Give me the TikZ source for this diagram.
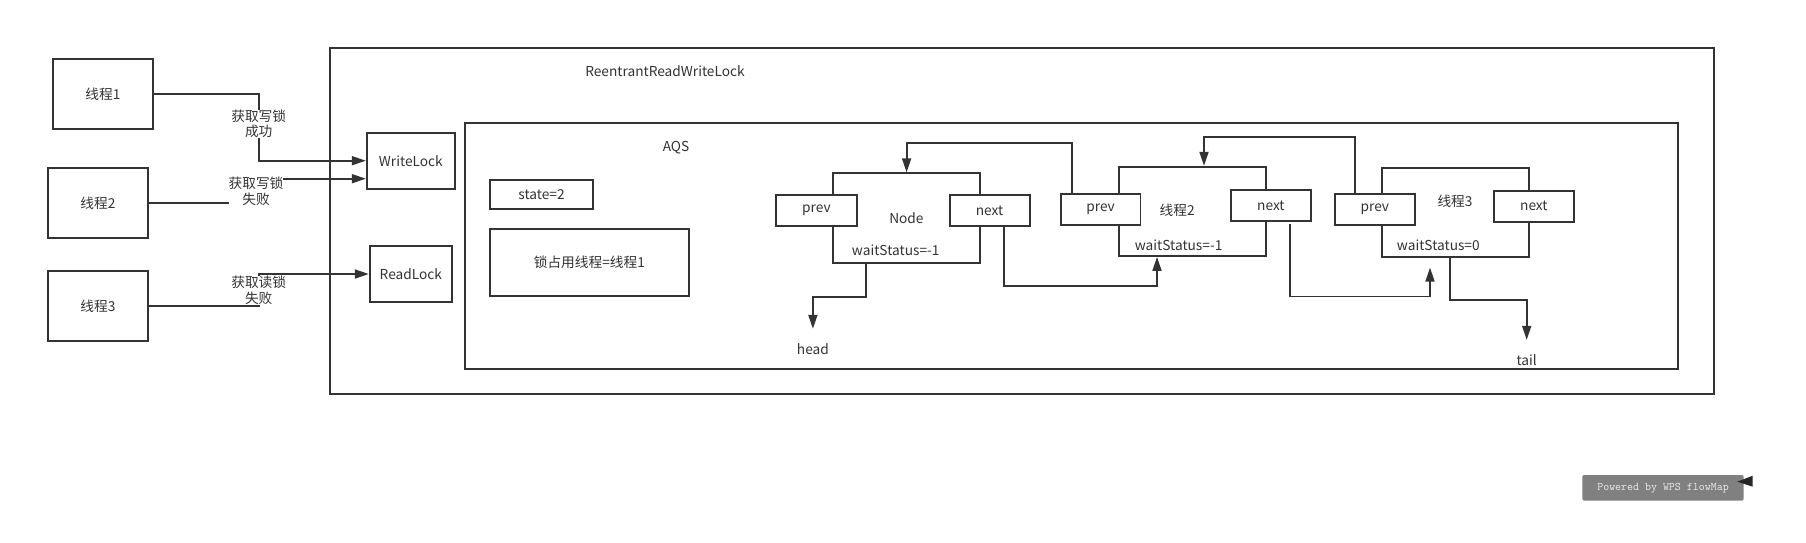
\documentclass[tikz,border=0pt]{standalone}
\usepackage{fontspec}
\setmainfont{Noto Sans CJK SC}
\usetikzlibrary{arrows.meta}
\definecolor{ink}{HTML}{333333}
\definecolor{wmgray}{HTML}{808080}
\begin{document}
\begin{tikzpicture}[x=1pt,y=-1pt,
  box/.style={draw=ink,line width=1.8pt,fill=white,inner sep=0pt,text=ink,font=\fontsize{13.7}{16}\selectfont},
  txt/.style={text=ink,inner sep=0pt,font=\fontsize{13.7}{16}\selectfont,text height=10pt,text depth=0pt},
  lbl/.style={text=ink,inner sep=0pt,fill=white,align=center,font=\fontsize{13.7}{15.7}\selectfont},
  arr/.style={draw=ink,line width=1.8pt,-{Triangle[length=14pt,width=9pt]}}]
\useasboundingbox[fill=white] (0,0) rectangle (1806,543);
% outer containers
\node[box,minimum width=1384pt,minimum height=346.3pt] (rrwl) at (1022,220.85) {};
\node[txt] (rrwlt) at (665,71.7) {ReentrantReadWriteLock};
\node[box,minimum width=1213pt,minimum height=246.6pt] (aqs) at (1071.5,246) {};
\node[txt] (aqst) at (676,146) {AQS};
% threads
\node[box,minimum width=100.6pt,minimum height=70pt] (t1) at (103,94) {线程1};
\node[box,minimum width=100.6pt,minimum height=70.3pt] (t2) at (98,202.85) {线程2};
\node[box,minimum width=100.6pt,minimum height=70.3pt] (t3) at (98,305.85) {线程3};
% locks
\node[box,minimum width=88.3pt,minimum height=56pt] (wl) at (410.85,160.7) {WriteLock};
\node[box,minimum width=82.3pt,minimum height=56pt] (rl) at (410.85,274) {ReadLock};
% AQS state
\node[box,minimum width=103.6pt,minimum height=29.3pt] (st) at (541.5,194.35) {state=2};
\node[box,minimum width=199.3pt,minimum height=67pt] (own) at (589.35,262.2) {锁占用线程=线程1};
% queue nodes
\node[box,minimum width=146.8pt,minimum height=89.4pt] (n1) at (906.6,218) {};
\node[box,minimum width=80.7pt,minimum height=31pt] (p1) at (816.45,210.5) {prev};
\node[box,minimum width=80pt,minimum height=31pt] (x1) at (989.6,210.5) {next};
\node[txt] (n1t) at (906.4,218.7) {Node};
\node[txt] (n1w) at (895.7,250) {waitStatus=-1};

\node[box,minimum width=147.5pt,minimum height=89.3pt] (n2) at (1192.35,211.35) {};
\node[box,minimum width=79.7pt,minimum height=30.7pt] (p2) at (1100.55,209.35) {prev};
\node[box,minimum width=80.4pt,minimum height=30.7pt] (x2) at (1270.9,205.35) {next};
\node[txt] (n2t) at (1177.1,210) {线程2};
\node[txt] (n2w) at (1178.6,245) {waitStatus=-1};

\node[box,minimum width=147.3pt,minimum height=89pt] (n3) at (1455.35,212.2) {};
\node[box,minimum width=80.3pt,minimum height=31pt] (p3) at (1374.85,209.2) {prev};
\node[box,minimum width=80.3pt,minimum height=31pt] (x3) at (1533.85,206.2) {next};
\node[txt] (n3t) at (1455,201) {线程3};
\node[txt] (n3w) at (1438.3,245.7) {waitStatus=0};

\node[txt] (head) at (812.9,349) {head};
\node[txt] (tail) at (1526.7,360) {tail};

% thread connectors
\coordinate (l1) at (258.7,123.8);
\coordinate (l2) at (256,191.3);
\coordinate (l3) at (258.7,290.5);
\draw[arr] (t1.east) -| (l1) |- (wl.west);
\draw[arr] (t2.east) -| (l2) |- ([yshift=-18pt]wl.west);
\draw[arr] (t3.east) -| (l3) |- (rl.west);
\node[lbl] (l1t) at (l1) {获取写锁\\成功};
\node[lbl] (l2t) at (l2) {获取写锁\\失败};
\node[lbl] (l3t) at (l3) {获取读锁\\失败};

% queue connectors
\draw[arr,shorten >=15pt] ([xshift=-40.5pt]n1.south) -- ++(0,33) -| (head.north);
\draw[arr] ([xshift=-28.55pt]p2.north) -- ++(0,-50) -| (n1.north);
\draw[arr] ([xshift=14.4pt]x1.south) -- ++(0,59.3) -| ([xshift=-35.35pt]n2.south);
\draw[arr] ([xshift=-19.85pt]p3.north) -- ++(0,-56) -| ([xshift=11.65pt]n2.north);
\draw[arr] ([xshift=19.1pt,yshift=-2.6pt]x2.south) -- ++(0,72.2) -| ([xshift=-25.35pt,yshift=-10pt]n3.south);
\draw[arr,shorten >=15pt] ([xshift=-5.35pt]n3.south) -- ++(0,42.3) -| (tail.north);

% watermark
\node[fill=wmgray,rounded corners=2pt,minimum width=161.4pt,minimum height=25.7pt,inner sep=0pt,text=white!92!black,font=\ttfamily\fontsize{11.6}{12}\selectfont] (wm) at (1663,487.85) {Powered by WPS flowMap};
\fill[black!85] (1737.3,481.7) -- (1752.7,475.7) -- (1752.7,486.7) -- cycle;
\end{tikzpicture}
\end{document}
